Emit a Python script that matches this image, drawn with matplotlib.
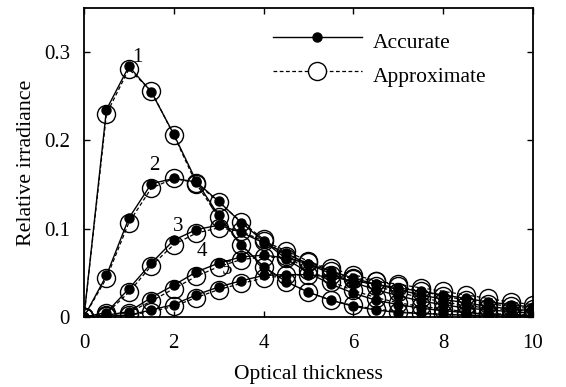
import numpy as np
import matplotlib
matplotlib.use("Agg")
import matplotlib.pyplot as plt

plt.rcParams['font.family'] = ['Liberation Serif', 'DejaVu Serif']

tau = [0, 0.5, 1, 1.5, 2, 2.5, 3, 3.5, 4, 4.5, 5, 5.5, 6, 6.5, 7, 7.5, 8, 8.5, 9, 9.5, 10]

# accurate solution, curves 1..5
acc1 = [0, 0.235, 0.284, 0.255, 0.207, 0.154, 0.115, 0.082, 0.057, 0.040, 0.028, 0.019, 0.012, 0.008, 0.005, 0.004, 0.003, 0.002, 0.001, 0.001, 0.001]
acc2 = [0, 0.047, 0.112, 0.151, 0.157, 0.153, 0.131, 0.107, 0.086, 0.066, 0.050, 0.037, 0.027, 0.019, 0.014, 0.010, 0.007, 0.005, 0.003, 0.002, 0.002]
acc3 = [0, 0.005, 0.032, 0.061, 0.087, 0.099, 0.104, 0.096, 0.084, 0.072, 0.060, 0.049, 0.039, 0.031, 0.024, 0.018, 0.014, 0.010, 0.008, 0.006, 0.004]
acc4 = [0, 0.002, 0.006, 0.022, 0.036, 0.051, 0.061, 0.068, 0.070, 0.067, 0.060, 0.052, 0.044, 0.037, 0.031, 0.025, 0.020, 0.016, 0.012, 0.009, 0.007]
acc5 = [0, 0.001, 0.002, 0.008, 0.014, 0.025, 0.034, 0.041, 0.047, 0.048, 0.048, 0.045, 0.041, 0.037, 0.033, 0.029, 0.025, 0.021, 0.017, 0.014, 0.011]

# approximate solution
app1 = [0, 0.230, 0.281, 0.256, 0.206, 0.151, 0.113, 0.081, 0.057, 0.040, 0.028, 0.019, 0.013, 0.009, 0.006, 0.004, 0.003, 0.002, 0.002, 0.001, 0.001]
app2 = [0, 0.044, 0.107, 0.146, 0.157, 0.152, 0.130, 0.108, 0.088, 0.069, 0.053, 0.040, 0.030, 0.022, 0.016, 0.012, 0.009, 0.006, 0.004, 0.003, 0.002]
app3 = [0, 0.004, 0.028, 0.058, 0.082, 0.095, 0.101, 0.097, 0.086, 0.075, 0.063, 0.052, 0.043, 0.035, 0.028, 0.022, 0.017, 0.013, 0.010, 0.008, 0.006]
app4 = [0, 0.002, 0.005, 0.018, 0.032, 0.046, 0.057, 0.065, 0.068, 0.067, 0.062, 0.055, 0.048, 0.041, 0.035, 0.029, 0.024, 0.019, 0.015, 0.012, 0.009]
app5 = [0, 0.001, 0.002, 0.006, 0.012, 0.022, 0.031, 0.038, 0.044, 0.047, 0.048, 0.047, 0.044, 0.041, 0.037, 0.033, 0.029, 0.025, 0.021, 0.017, 0.014]

curve_labels = ['1', '2', '3', '4', '5']
label_x = [1.18, 1.56, 2.1, 2.62, 3.18]
label_y = [0.294, 0.172, 0.102, 0.074, 0.054]

fig = plt.figure(figsize=(5.66, 3.87), dpi=100)
ax = fig.add_axes([0.1484, 0.181, 0.7933, 0.798])

for acc, app in zip([acc1, acc2, acc3, acc4, acc5], [app1, app2, app3, app4, app5]):
    ax.plot(tau, app, '--', color='black', lw=0.9, dashes=(3, 2),
            marker='o', ms=13, mfc='none', mec='black', mew=1.0)
    ax.plot(tau, acc, '-', color='black', lw=1.0,
            marker='o', ms=6.5, mfc='black', mec='black')

for lab, lx, ly in zip(curve_labels, label_x, label_y):
    ax.text(lx, ly, lab, fontsize=15, ha='center', va='center', color='black')

# legend drawn by hand in axes fraction
ax.plot([0.42, 0.62], [0.905, 0.905], '-', color='black', lw=1.0, transform=ax.transAxes)
ax.plot([0.52], [0.905], 'o', color='black', ms=6.5, transform=ax.transAxes)
ax.plot([0.42, 0.62], [0.795, 0.795], '--', color='black', lw=0.9, dashes=(3, 2), transform=ax.transAxes)
ax.plot([0.52], [0.795], 'o', mfc='white', mec='black', ms=13, mew=1.0, transform=ax.transAxes)
ax.text(0.643, 0.885, 'Accurate', fontsize=15.5, va='center', transform=ax.transAxes)
ax.text(0.643, 0.775, 'Approximate', fontsize=15.5, va='center', transform=ax.transAxes)

ax.set_xlim(0, 10)
ax.set_ylim(0, 0.35)
ax.set_xticks([0, 2, 4, 6, 8, 10])
ax.set_yticks([0, 0.1, 0.2, 0.3])
ax.set_yticklabels(['0', '0.1', '0.2', '0.3'])
ax.tick_params(direction='in', top=True, right=True, length=4, width=1, labelsize=15)
ax.tick_params(axis='x', pad=12)
ax.tick_params(axis='y', pad=10)
for s in ax.spines.values():
    s.set_linewidth(1.3)

ax.set_xlabel('Optical thickness', fontsize=15.5, labelpad=9)
ax.set_ylabel('Relative irradiance', fontsize=15.8, labelpad=6)

fig.savefig('out.png', dpi=100)
